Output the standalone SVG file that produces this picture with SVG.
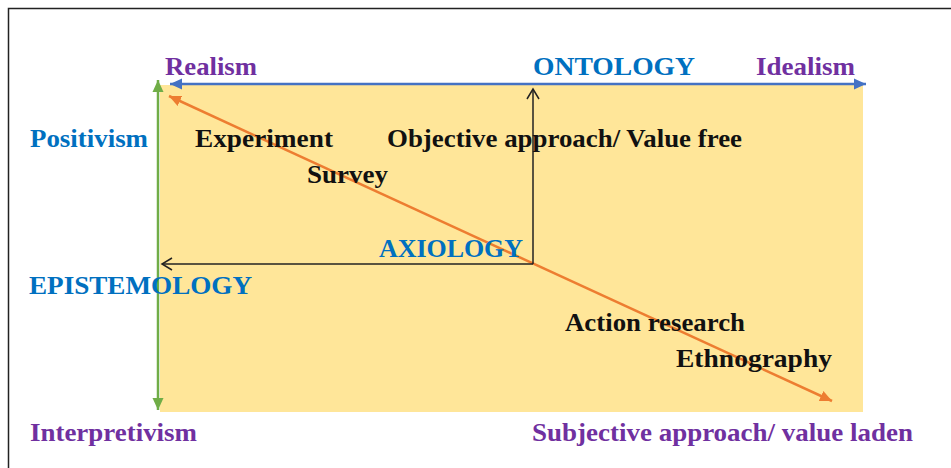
<svg xmlns="http://www.w3.org/2000/svg" width="951" height="468" viewBox="0 0 951 468">
<defs>
<style>
text{font-family:"Liberation Serif","Times New Roman",serif;font-weight:bold;font-size:25px}
.blk{fill:#111}
.blu{fill:#0070C0}
.pur{fill:#7030A0}
</style>
<marker id="mBlue" markerUnits="userSpaceOnUse" markerWidth="14" markerHeight="14" viewBox="0 0 14 14" refX="12" refY="7" orient="auto-start-reverse"><path d="M0,1.5 L12,7 L0,12.5 z" fill="#4472C4"/></marker>
<marker id="mGreen" markerUnits="userSpaceOnUse" markerWidth="14" markerHeight="14" viewBox="0 0 14 14" refX="12" refY="7" orient="auto-start-reverse"><path d="M0,1.5 L12,7 L0,12.5 z" fill="#70AD47"/></marker>
<marker id="mOrange" markerUnits="userSpaceOnUse" markerWidth="14" markerHeight="14" viewBox="0 0 14 14" refX="12" refY="7" orient="auto-start-reverse"><path d="M0,1.5 L12,7 L0,12.5 z" fill="#ED7D31"/></marker>
<marker id="mOpen" markerUnits="userSpaceOnUse" markerWidth="14" markerHeight="16" viewBox="0 0 14 16" refX="12" refY="8" orient="auto"><path d="M2,2 L12,8 L2,14" fill="none" stroke="#222" stroke-width="1.5"/></marker>
</defs>
<rect width="951" height="468" fill="#fff"/>
<path d="M8.5,468 V8.5 H951" fill="none" stroke="#222" stroke-width="1.5"/>
<rect id="field" x="160" y="85" width="703" height="327" fill="#FFE699"/>
<g id="connectors" fill="none">
<line x1="170" y1="84" x2="866" y2="84" stroke="#4472C4" stroke-width="2.5" marker-start="url(#mBlue)" marker-end="url(#mBlue)"/>
<line x1="158" y1="80" x2="158" y2="410" stroke="#70AD47" stroke-width="2.5" marker-start="url(#mGreen)" marker-end="url(#mGreen)"/>
<line x1="169" y1="96" x2="832" y2="401" stroke="#ED7D31" stroke-width="2.5" marker-start="url(#mOrange)" marker-end="url(#mOrange)"/>
<path d="M533,264 V89" stroke="#222" stroke-width="1.5" marker-end="url(#mOpen)"/>
<path d="M533,264 H162" stroke="#222" stroke-width="1.5" marker-end="url(#mOpen)"/>
</g>
<g id="realism"><text class="pur" x="165" y="75" textLength="92" lengthAdjust="spacingAndGlyphs">Realism</text></g>
<g id="ontology"><text class="blu" x="533" y="75" textLength="162" lengthAdjust="spacingAndGlyphs">ONTOLOGY</text></g>
<g id="idealism"><text class="pur" x="756" y="75" textLength="99" lengthAdjust="spacingAndGlyphs">Idealism</text></g>
<g id="positivism"><text class="blu" x="30" y="147" textLength="118" lengthAdjust="spacingAndGlyphs">Positivism</text></g>
<g id="experiment"><text class="blk" x="195" y="147" textLength="138" lengthAdjust="spacingAndGlyphs">Experiment</text></g>
<g id="objective"><text class="blk" x="387" y="147" textLength="355" lengthAdjust="spacingAndGlyphs">Objective approach/ Value free</text></g>
<g id="survey"><text class="blk" x="307" y="183" textLength="81" lengthAdjust="spacingAndGlyphs">Survey</text></g>
<g id="axiology"><text class="blu" x="379" y="257" textLength="144" lengthAdjust="spacingAndGlyphs">AXIOLOGY</text></g>
<g id="epistemology"><text class="blu" x="29" y="294" textLength="223" lengthAdjust="spacingAndGlyphs">EPISTEMOLOGY</text></g>
<g id="action"><text class="blk" x="565" y="331" textLength="180" lengthAdjust="spacingAndGlyphs">Action research</text></g>
<g id="ethnography"><text class="blk" x="676" y="367" textLength="156" lengthAdjust="spacingAndGlyphs">Ethnography</text></g>
<g id="interpretivism"><text class="pur" x="30" y="441" textLength="167" lengthAdjust="spacingAndGlyphs">Interpretivism</text></g>
<g id="subjective"><text class="pur" x="532" y="441" textLength="381" lengthAdjust="spacingAndGlyphs">Subjective approach/ value laden</text></g>
</svg>
